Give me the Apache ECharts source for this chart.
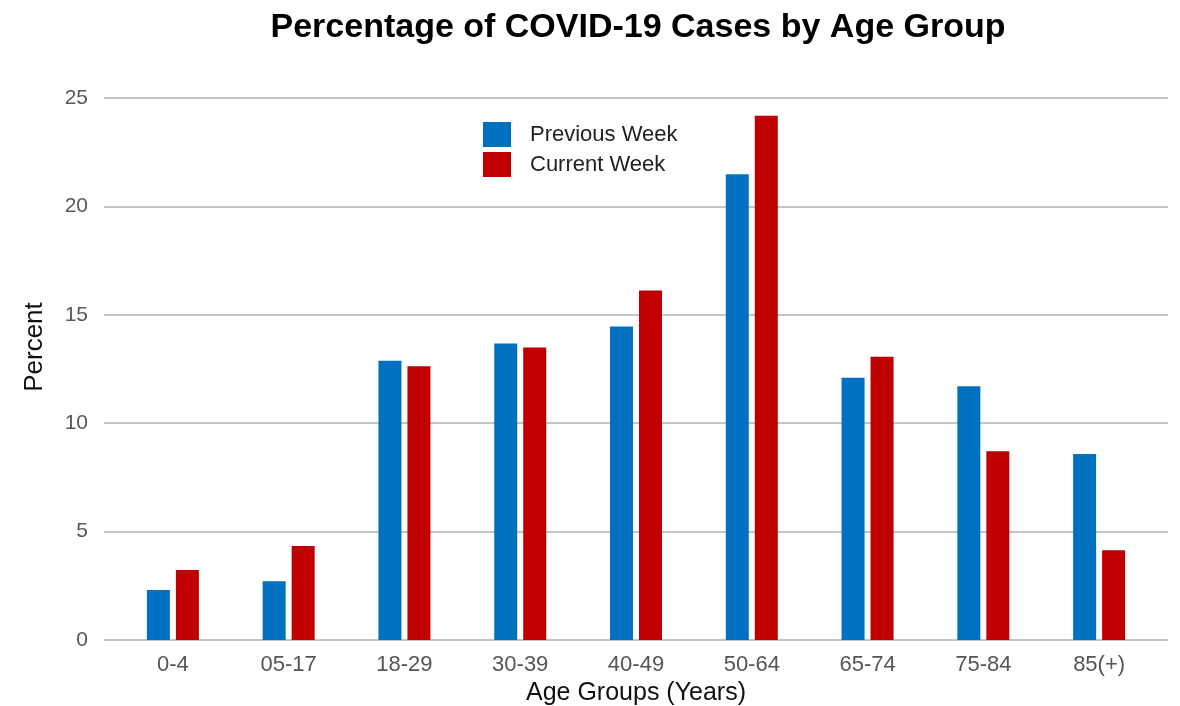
<!DOCTYPE html>
<html>
<head>
<meta charset="utf-8">
<script src="https://cdn.jsdelivr.net/npm/echarts@6/dist/echarts.min.js"></script>
<style>
  html, body { margin: 0; padding: 0; background: #fff; }
  #chart { width: 1180px; height: 706px; }
</style>
</head>
<body>
<div id="chart"></div>
<script>
const ageGroups = ['0-4', '05-17', '18-29', '30-39', '40-49', '50-64', '65-74', '75-84', '85(+)']
const previousWeek = [2.31, 2.71, 12.88, 13.68, 14.46, 21.48, 12.1, 11.7, 8.58]
const currentWeek = [3.23, 4.34, 12.63, 13.49, 16.12, 24.18, 13.07, 8.71, 4.14]
const seriesNames = ['Previous Week', 'Current Week']

const font = '"Liberation Sans", Arial, sans-serif'
const chart = echarts.init(document.getElementById('chart'))

chart.setOption({
  animation: false,
  textStyle: { fontFamily: font },
  title: {
    text: 'Percentage of COVID-19 Cases by Age Group',
    left: 633,
    textAlign: 'center',
    top: 6,
    textStyle: { fontSize: 34, fontWeight: 'bold', color: '#000', fontFamily: font }
  },
  legend: {
    orient: 'vertical',
    left: 483,
    top: 122,
    padding: 0,
    itemWidth: 28,
    itemHeight: 25,
    itemGap: 5,
    icon: 'rect',
    data: seriesNames,
    textStyle: { fontSize: 22, color: '#222', padding: [0, 0, 0, 14], fontFamily: font }
  },
  // grid 0 carries the gridlines (wider than the category band), grid 1 the bars
  grid: [
    { left: 104, right: 12, top: 98, bottom: 66, outerBoundsMode: 'none' },
    { left: 115, right: 23, top: 98, bottom: 66, outerBoundsMode: 'none' }
  ],
  xAxis: [
    { gridIndex: 0, type: 'value', show: false, min: 0, max: 1 },
    {
      gridIndex: 1,
      type: 'category',
      data: ageGroups,
      axisLine: { show: false },
      axisTick: { show: false },
      axisLabel: { fontSize: 22, color: '#555', margin: 14, fontFamily: font },
      name: 'Age Groups (Years)',
      nameLocation: 'middle',
      nameGap: 37,
      nameTextStyle: { fontSize: 25, color: '#111', fontFamily: font }
    }
  ],
  yAxis: [
    {
      gridIndex: 0,
      type: 'value',
      min: 0,
      max: 25,
      interval: 5,
      axisLine: { show: false },
      axisTick: { show: false },
      axisLabel: { fontSize: 21, color: '#595959', margin: 16, fontFamily: font },
      splitLine: { lineStyle: { color: '#c4c4c4', width: 2 } },
      name: 'Percent',
      nameLocation: 'middle',
      nameRotate: 90,
      nameGap: 56,
      nameTextStyle: { fontSize: 26, color: '#111', padding: [0, 0, 0, 44], fontFamily: font }
    },
    { gridIndex: 1, type: 'value', min: 0, max: 25, show: false, splitLine: { show: false } }
  ],
  series: [
    {
      name: seriesNames[0],
      type: 'bar',
      xAxisIndex: 1,
      yAxisIndex: 1,
      data: previousWeek,
      barWidth: 23,
      barGap: '26%',
      itemStyle: { color: '#0070c0' }
    },
    {
      name: seriesNames[1],
      type: 'bar',
      xAxisIndex: 1,
      yAxisIndex: 1,
      data: currentWeek,
      barWidth: 23,
      barGap: '26%',
      itemStyle: { color: '#c00000' }
    }
  ]
})
</script>
</body>
</html>
